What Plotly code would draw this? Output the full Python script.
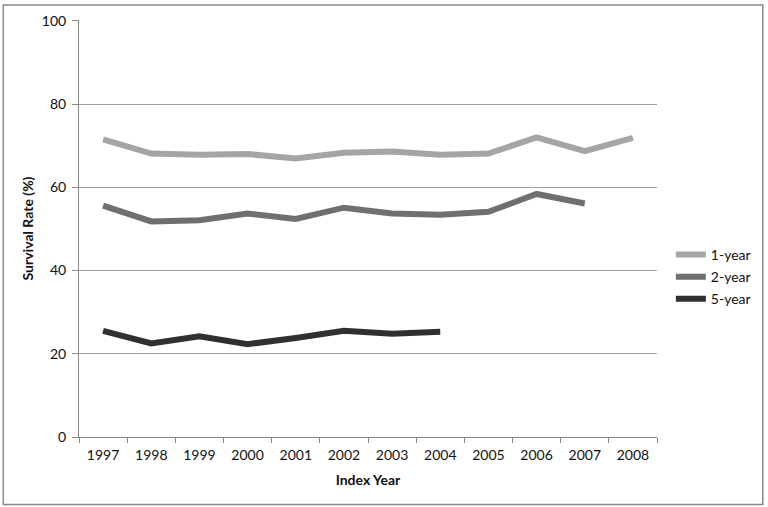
import plotly.graph_objects as go

years = ["1997", "1998", "1999", "2000", "2001", "2002", "2003", "2004", "2005", "2006", "2007", "2008"]
one_year = [71.5, 68.1, 67.8, 68.0, 66.9, 68.3, 68.6, 67.8, 68.1, 72.0, 68.7, 71.9]
two_year = [55.6, 51.8, 52.1, 53.7, 52.4, 55.1, 53.7, 53.4, 54.1, 58.4, 56.1, None]
five_year = [25.5, 22.5, 24.2, 22.3, 23.8, 25.5, 24.8, 25.3, None, None, None, None]

series = [("1-year", one_year, "#a5a5a5"),
          ("2-year", two_year, "#6f6f6f"),
          ("5-year", five_year, "#303030")]

fig = go.Figure()
for name, vals, col in series:
    fig.add_trace(go.Scatter(x=years, y=vals, name=name, mode="lines", legendgroup=name,
                             line=dict(color=col, width=6), connectgaps=False))

fig.update_layout(
    width=768, height=507,
    margin=dict(l=79, r=109, t=18, b=70),
    paper_bgcolor="white", plot_bgcolor="white",
    font=dict(family="Lato, Open Sans, sans-serif", size=14, color="#111"),
    showlegend=True,
    legend=dict(x=1.024, y=0.384, yanchor="middle", xanchor="left",
                font=dict(size=14), tracegroupgap=1, itemwidth=30),
    xaxis=dict(type="category", range=[-0.5, 11.5], tickson="boundaries",
               ticks="outside", ticklen=5, tickcolor="#888", showline=True,
               linecolor="#888", linewidth=1, showgrid=False, ticklabelstandoff=5,
               title=dict(text="<b>Index Year</b>", standoff=13, font=dict(size=14))),
    yaxis=dict(range=[0, 100.2], tickvals=[0, 20, 40, 60, 80, 100], ticks="outside",
               ticklen=6, tickcolor="#888", ticklabelstandoff=3,
               showline=True, linecolor="#888", linewidth=1,
               showgrid=True, gridcolor="#a0a0a0", gridwidth=1, zeroline=False,
               title=dict(text="<b>Survival Rate (%)</b>", standoff=4, font=dict(size=14))),
)

fig.add_shape(type="rect", xref="paper", yref="paper",
              x0=-0.131, x1=1.183, y0=-0.162, y1=1.036,
              line=dict(color="#888", width=1.5))

fig.write_html("out.html", config={"displayModeBar": False},
               post_script="document.body.style.margin='0';")
